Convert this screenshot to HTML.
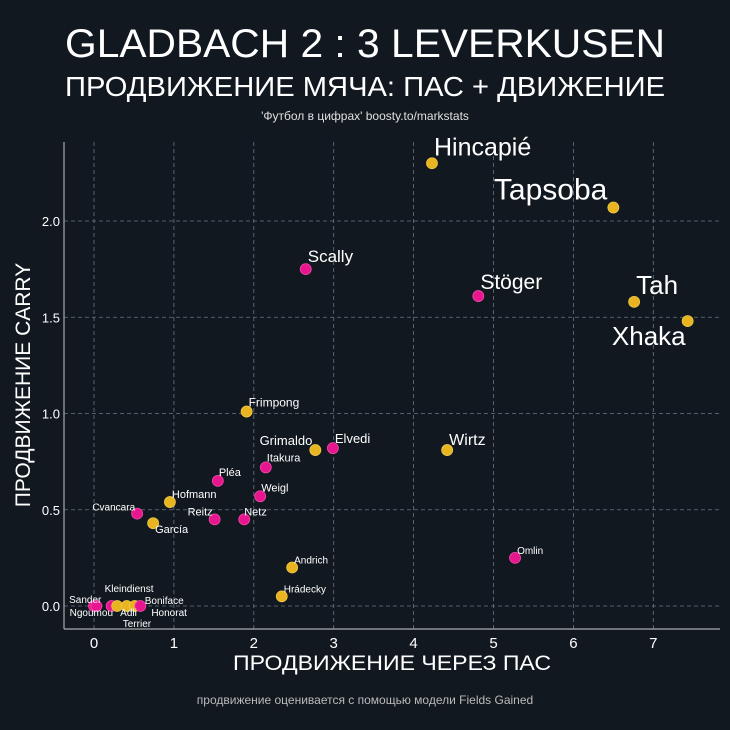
<!DOCTYPE html>
<html><head><meta charset="utf-8"><style>
body{margin:0;background:#111820;}
svg{display:block;font-family:"Liberation Sans","DejaVu Sans",sans-serif;}
</style></head><body>
<svg id="chart" width="730" height="730" viewBox="0 0 730 730">
<rect width="730" height="730" fill="#111820"/>
<text x="365" y="57" font-size="40" fill="#fff" text-anchor="middle" textLength="600" lengthAdjust="spacingAndGlyphs">GLADBACH 2 : 3 LEVERKUSEN</text>
<text x="365" y="96" font-size="28" fill="#fff" text-anchor="middle" textLength="600" lengthAdjust="spacingAndGlyphs">ПРОДВИЖЕНИЕ МЯЧА: ПАС + ДВИЖЕНИЕ</text>
<text x="365" y="120" font-size="12" fill="#e0e0e0" text-anchor="middle">'Футбол в цифрах' boosty.to/markstats</text>
<g id="grid"></g>
<line x1="64" y1="142" x2="64" y2="629" stroke="#aaa" stroke-width="1.2"/>
<line x1="64" y1="629" x2="720" y2="629" stroke="#aaa" stroke-width="1.2"/>
<g id="marks"></g>
<text x="392" y="670" font-size="21" fill="#fff" text-anchor="middle" textLength="318" lengthAdjust="spacingAndGlyphs">ПРОДВИЖЕНИЕ ЧЕРЕЗ ПАС</text>
<text x="30" y="385" font-size="21" fill="#fff" text-anchor="middle" transform="rotate(-90 30 385)">ПРОДВИЖЕНИЕ CARRY</text>
<text x="365" y="704" font-size="12" fill="#bbb" text-anchor="middle">продвижение оценивается с помощью модели Fields Gained</text>
</svg>
<script>
const players = ["Hincapié","Tapsoba","Scally","Stöger","Tah","Xhaka","Frimpong","Grimaldo","Elvedi","Wirtz","Itakura","Pléa","Weigl","Hofmann","Cvancara","Reitz","Netz","García","Andrich","Omlin","Hrádecky","Ngoumou","Sander","Kleindienst","Adli","Terrier","Boniface","Honorat"];
const passValues = [4.23,6.50,2.65,4.81,6.76,7.43,1.91,2.77,2.99,4.42,2.15,1.55,2.08,0.95,0.54,1.51,1.88,0.74,2.48,5.27,2.35,0.00,0.03,0.22,0.29,0.41,0.51,0.58];
const carryValues = [2.30,2.07,1.75,1.61,1.58,1.48,1.01,0.81,0.82,0.81,0.72,0.65,0.57,0.54,0.48,0.45,0.45,0.43,0.20,0.25,0.05,0.00,0.00,0.00,0.00,0.00,0.00,0.00];
const teams = ["B","B","M","M","B","B","B","B","M","B","M","M","M","B","M","M","M","B","B","M","B","M","M","M","B","B","B","M"];
const xTicks = [0,1,2,3,4,5,6,7];
const yTicks = [0.0,0.5,1.0,1.5,2.0];
const yTickLabels = ["0.0","0.5","1.0","1.5","2.0"];

// label styling (size, dx, dy, anchor) - presentation only
const labelStyle = {
 "Hincapié":[25,2,-8,"start"],"Tapsoba":[30,-6,-8,"end"],"Scally":[17,2,-7,"start"],"Stöger":[21,2,-7,"start"],
 "Tah":[26,2,-8,"start"],"Xhaka":[26,-2,24,"end"],"Frimpong":[12,2,-5,"start"],"Grimaldo":[13,-3,-5,"end"],
 "Elvedi":[13,2,-5,"start"],"Wirtz":[16,2,-5,"start"],"Itakura":[11,1,-6,"start"],"Pléa":[11,1,-5,"start"],
 "Weigl":[11,1,-5,"start"],"Hofmann":[11,2,-4,"start"],"Cvancara":[10,-2,-3,"end"],"Reitz":[11,-2,-4,"end"],
 "Netz":[11,0,-4,"start"],"García":[11,2,10,"start"],"Andrich":[10,2,-4,"start"],"Omlin":[10,2,-4,"start"],
 "Hrádecky":[10,2,-4,"start"],"Ngoumou":[10,19,10,"end"],"Sander":[10,5,-3,"end"],"Kleindienst":[10,-7,-14,"start"],
 "Adli":[10,3,10,"start"],"Terrier":[10,-4,21,"start"],"Boniface":[10,10,-2,"start"],"Honorat":[10,11,10,"start"]
};
const X0=94, XS=79.9, Y0=606, YS=192.5;
const xs = v => X0 + v*XS;
const ys = v => Y0 - v*YS;
const NS="http://www.w3.org/2000/svg";
const grid=document.getElementById('grid'), marks=document.getElementById('marks');
xTicks.forEach(t=>{
  const l=document.createElementNS(NS,'line');
  l.setAttribute('x1',xs(t));l.setAttribute('x2',xs(t));l.setAttribute('y1',142);l.setAttribute('y2',629);
  l.setAttribute('stroke','#6a7680');l.setAttribute('stroke-dasharray','4,3');l.setAttribute('stroke-width','0.8');
  
  
  grid.appendChild(l);
  const tx=document.createElementNS(NS,'text');
  tx.setAttribute('x',xs(t));tx.setAttribute('y',648);tx.setAttribute('fill','#fff');tx.setAttribute('font-size','15');tx.setAttribute('text-anchor','middle');
  tx.textContent=t;
  
  
  grid.appendChild(tx);
});
yTicks.forEach((t,i)=>{
  const l=document.createElementNS(NS,'line');
  l.setAttribute('x1',64);l.setAttribute('x2',720);l.setAttribute('y1',ys(t));l.setAttribute('y2',ys(t));
  l.setAttribute('stroke','#6a7680');l.setAttribute('stroke-dasharray','4,3');l.setAttribute('stroke-width','0.8');
  
  
  grid.appendChild(l);
  const tx=document.createElementNS(NS,'text');
  tx.setAttribute('x',60);tx.setAttribute('y',ys(t)+5);tx.setAttribute('fill','#fff');tx.setAttribute('font-size','13');tx.setAttribute('text-anchor','end');
  tx.textContent=yTickLabels[i];
  
  
  grid.appendChild(tx);
});
players.forEach((p,i)=>{
  const cx=xs(passValues[i]), cy=ys(carryValues[i]);
  const c=document.createElementNS(NS,'circle');
  c.setAttribute('cx',cx);c.setAttribute('cy',cy);c.setAttribute('r',5.5);
  c.setAttribute('fill',teams[i]==="B"?"#e8b520":"#e8168e");
  c.setAttribute('stroke',teams[i]==="B"?"#f0c84a":"#f04aa8");c.setAttribute('stroke-width','0.8');
  
  
  marks.appendChild(c);
});
players.forEach((p,i)=>{
  const cx=xs(passValues[i]), cy=ys(carryValues[i]);
  const s=labelStyle[p];
  const t=document.createElementNS(NS,'text');
  t.setAttribute('x',cx+s[1]);t.setAttribute('y',cy+s[2]);t.setAttribute('font-size',s[0]);
  t.setAttribute('text-anchor',s[3]);t.setAttribute('fill','#fff');
  t.textContent=p;
  
  
  marks.appendChild(t);
});
</script>
</body></html>
